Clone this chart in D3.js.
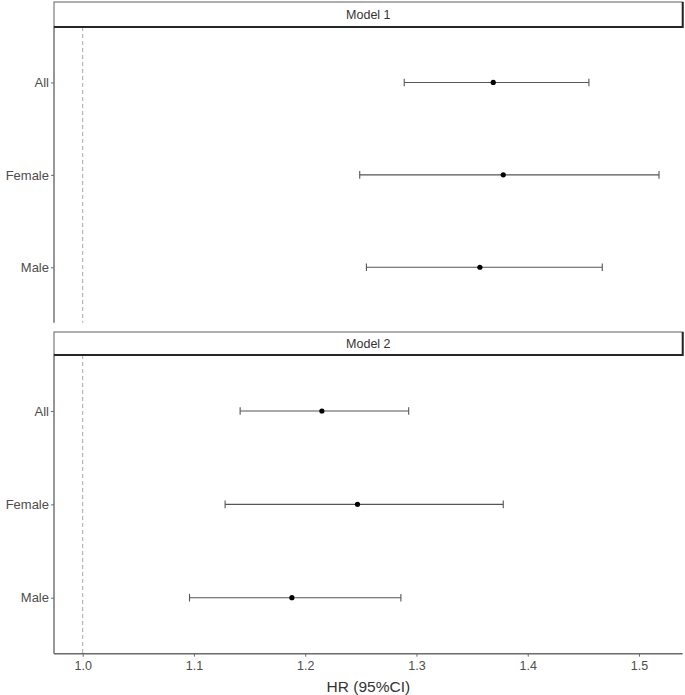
<!DOCTYPE html>
<html>
<head>
<meta charset="utf-8">
<script src="https://cdn.jsdelivr.net/npm/d3@7"></script>
<style>
  body { margin: 0; background: #ffffff; }
  svg text { font-family: "Liberation Sans", Arial, sans-serif; }
</style>
</head>
<body>
<div id="chart"></div>
<script>
// ---- data ----
var models = ["Model 1", "Model 2"];
var groups = ["All", "Female", "Male"];
// hazard ratios and 95% CI, one entry per group, per model
var hrModel1 = [1.369, 1.378, 1.357];
var lowModel1 = [1.289, 1.249, 1.255];
var highModel1 = [1.455, 1.518, 1.467];
var hrModel2 = [1.215, 1.247, 1.188];
var lowModel2 = [1.1415, 1.128, 1.096];
var highModel2 = [1.293, 1.378, 1.286];
var xTicks = [1.0, 1.1, 1.2, 1.3, 1.4, 1.5];
var refLine = 1.0;

var WIDTH = 685, HEIGHT = 695;
var PANEL_LEFT = 54, PANEL_RIGHT = 682.7;
// strip top / strip bottom / panel bottom for each facet
var facetBox = [
	{stripTop: 2, stripBottom: 27, panelBottom: 322.7},
	{stripTop: 332, stripBottom: 355, panelBottom: 653.7}
];
var AXIS_GREY = "#6b6b6b";
var TEXT_GREY = "#4d4d4d";

var svg = d3.select("#chart").append("svg")
	.attr("width", WIDTH)
	.attr("height", HEIGHT);

var x = d3.scaleLinear()
	.domain([0.9742, 1.5393])
	.range([PANEL_LEFT, PANEL_RIGHT]);

var tables = [
	{hr: hrModel1, low: lowModel1, high: highModel1},
	{hr: hrModel2, low: lowModel2, high: highModel2}
];

models.forEach(function(m, i){
	var box = facetBox[i];
	var g = svg.append("g").attr("id", "facet_" + i);

	// ggplot style discrete axis: expansion of 0.6 on both ends
	var y = d3.scalePoint()
		.domain(groups)
		.range([box.stripBottom, box.panelBottom])
		.padding(0.6);

	//reference line at HR = 1
	g.append("line")
		.attr("x1", x(refLine)).attr("x2", x(refLine))
		.attr("y1", box.stripBottom).attr("y2", box.panelBottom)
		.style("stroke", "#a6a6a6")
		.style("stroke-width", 1)
		.style("stroke-dasharray", "4,3");

	// error bars + points
	var rows = groups.map(function(gr, k){
		return {group: gr, hr: tables[i].hr[k], low: tables[i].low[k], high: tables[i].high[k]};
	});
	var bars = g.selectAll(".bar").data(rows).enter().append("g").attr("class", "bar");
	bars.append("line")
		.attr("x1", function(d){return x(d.low);})
		.attr("x2", function(d){return x(d.high);})
		.attr("y1", function(d){return y(d.group);})
		.attr("y2", function(d){return y(d.group);})
		.style("stroke", "#555555")
		.style("stroke-width", 1.1);
	["low", "high"].forEach(function(k){
		bars.append("line")
			.attr("x1", function(d){return x(d[k]);})
			.attr("x2", function(d){return x(d[k]);})
			.attr("y1", function(d){return y(d.group) - 3.8;})
			.attr("y2", function(d){return y(d.group) + 3.8;})
			.style("stroke", "#555555")
			.style("stroke-width", 1.1);
	});
	bars.append("circle")
		.attr("cx", function(d){return x(d.hr);})
		.attr("cy", function(d){return y(d.group);})
		.attr("r", 2.6)
		.style("fill", "#000000");

	// left axis
	var yAxis = g.append("g")
		.attr("transform", "translate(" + PANEL_LEFT + ",0)")
		.call(d3.axisLeft(y).tickSize(3).tickPadding(2));
	yAxis.select(".domain").remove();
	yAxis.selectAll(".tick line").style("stroke", AXIS_GREY);
	yAxis.selectAll(".tick text")
		.style("fill", TEXT_GREY)
		.style("font-size", "13px");
	g.append("line")
		.attr("x1", PANEL_LEFT).attr("x2", PANEL_LEFT)
		.attr("y1", box.stripBottom).attr("y2", box.panelBottom)
		.style("stroke", AXIS_GREY)
		.style("stroke-width", 1.4);

	//strip
	g.append("rect")
		.attr("x", PANEL_LEFT)
		.attr("y", box.stripTop)
		.attr("width", PANEL_RIGHT - PANEL_LEFT)
		.attr("height", box.stripBottom - box.stripTop)
		.style("fill", "#ffffff")
		.style("stroke", "#7a7a7a")
		.style("stroke-width", 1.2);
	// darker bottom + right border of the strip
	g.append("path")
		.attr("d", "M" + PANEL_LEFT + "," + box.stripBottom + "H" + PANEL_RIGHT + "V" + box.stripTop)
		.style("fill", "none")
		.style("stroke", "#262626")
		.style("stroke-width", 2);
	g.append("text")
		.text(m)
		.attr("x", (PANEL_LEFT + PANEL_RIGHT) / 2)
		.attr("y", (box.stripTop + box.stripBottom) / 2)
		.attr("dy", "0.35em")
		.style("text-anchor", "middle")
		.style("fill", "#333333")
		.style("font-size", "12.5px");
});

// bottom axis under the last facet
var last = facetBox[facetBox.length - 1];
var xAxis = svg.append("g")
	.attr("transform", "translate(0," + last.panelBottom + ")")
	.call(d3.axisBottom(x).tickValues(xTicks).tickFormat(d3.format(".1f")).tickSize(3).tickPadding(4));
xAxis.select(".domain").remove();
xAxis.selectAll(".tick line").style("stroke", AXIS_GREY);
xAxis.selectAll(".tick text")
	.style("fill", TEXT_GREY)
	.style("font-size", "12.5px");
svg.append("line")
	.attr("x1", PANEL_LEFT).attr("x2", PANEL_RIGHT)
	.attr("y1", last.panelBottom).attr("y2", last.panelBottom)
	.style("stroke", AXIS_GREY)
	.style("stroke-width", 1.4);

svg.append("text")
	.text("HR (95%CI)")
	.attr("x", (PANEL_LEFT + PANEL_RIGHT) / 2)
	.attr("y", 692)
	.style("text-anchor", "middle")
	.style("fill", "#333333")
	.style("font-size", "15.5px");
</script>
</body>
</html>
